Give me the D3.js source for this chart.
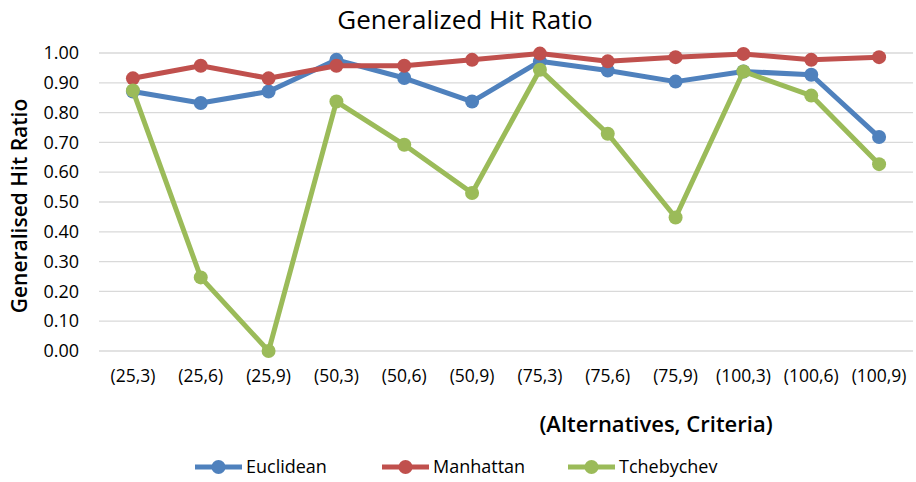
<!DOCTYPE html>
<html>
<head>
<meta charset="utf-8">
<script src="https://cdn.jsdelivr.net/npm/d3@7"></script>
<style>
  body { margin: 0; background: #fff; }
  text { font-family: "Open Sans", sans-serif; fill: #000; }
</style>
</head>
<body>
<div id="chart"></div>
<script>
// categories on the x axis: (alternatives, criteria)
let categories = ["(25,3)", "(25,6)", "(25,9)", "(50,3)", "(50,6)", "(50,9)",
                  "(75,3)", "(75,6)", "(75,9)", "(100,3)", "(100,6)", "(100,9)"];

// series values
let euclidean  = [0.871, 0.832, 0.871, 0.977, 0.916, 0.837, 0.972, 0.941, 0.904, 0.938, 0.927, 0.718];
let manhattan  = [0.915, 0.957, 0.915, 0.957, 0.957, 0.977, 0.998, 0.972, 0.986, 0.997, 0.977, 0.986];
let tchebychev = [0.874, 0.247, 0.000, 0.837, 0.692, 0.530, 0.944, 0.729, 0.448, 0.938, 0.857, 0.627];

let seriesNames = ["Euclidean", "Manhattan", "Tchebychev"];
let yTicks = [0, 0.1, 0.2, 0.3, 0.4, 0.5, 0.6, 0.7, 0.8, 0.9, 1.0];

let colors = ["#4f81bd", "#c0504d", "#9bbb59"];
let allseries = [euclidean, manhattan, tchebychev];

let W = 916, H = 482;
let margin = {top: 53, right: 3, bottom: 131, left: 99};
let width = W - margin.left - margin.right,
    height = H - margin.top - margin.bottom;

let svg = d3.select("#chart").append("svg")
    .attr("width", W)
    .attr("height", H);

let g = svg.append("g")
    .attr("transform", "translate(" + margin.left + "," + margin.top + ")");

let x = d3.scaleBand()
    .domain(categories)
    .range([0, width]);

let y = d3.scaleLinear()
    .domain([0, 1])
    .range([height, 0]);

// gridlines
g.append("g")
    .selectAll("line")
    .data(yTicks)
  .enter().append("line")
    .attr("x1", 0)
    .attr("x2", width)
    .attr("y1", d => y(d))
    .attr("y2", d => y(d))
    .style("stroke", "#d9d9d9")
    .style("stroke-width", 1.3);

// y axis labels
let yAxis = d3.axisLeft(y)
    .tickValues(yTicks)
    .tickFormat(d3.format(".2f"))
    .tickSize(0)
    .tickPadding(20);
let ya = g.append("g").call(yAxis);
ya.select(".domain").remove();
ya.selectAll("text")
    .style("font-size", "18px")
    .style("fill", "#000");

// x axis labels
let xAxis = d3.axisBottom(x)
    .tickSize(0)
    .tickPadding(19);
let xa = g.append("g")
    .attr("transform", "translate(0," + height + ")")
    .call(xAxis);
xa.select(".domain").remove();
xa.selectAll("text")
    .style("font-size", "17.5px")
    .style("fill", "#000");

// lines and markers
let line = d3.line()
    .x((d, i) => x(categories[i]) + x.bandwidth() / 2)
    .y(d => y(d));

allseries.forEach(function(vals, s) {
    g.append("path")
        .datum(vals)
        .attr("d", line)
        .style("fill", "none")
        .style("stroke", colors[s])
        .style("stroke-width", 5)
        .style("stroke-linejoin", "round");
    g.selectAll(".pt" + s)
        .data(vals)
      .enter().append("circle")
        .attr("class", "pt" + s)
        .attr("cx", (d, i) => x(categories[i]) + x.bandwidth() / 2)
        .attr("cy", d => y(d))
        .attr("r", 7)
        .style("fill", colors[s]);
});

// title
svg.append("text")
    .attr("x", 465)
    .attr("y", 29)
    .style("text-anchor", "middle")
    .style("font-size", "26px")
    .text("Generalized Hit Ratio");

// y axis title
svg.append("text")
    .attr("transform", "translate(27," + 206 + ") rotate(-90)")
    .style("text-anchor", "middle")
    .style("font-size", "21px")
    .style("font-weight", 600)
    .text("Generalised Hit Ratio");

// x axis title
svg.append("text")
    .attr("x", 656)
    .attr("y", 432)
    .style("text-anchor", "middle")
    .style("font-size", "22px")
    .style("font-weight", 600)
    .text("(Alternatives, Criteria)");

// legend
let legendX = [195, 382, 568];
let legend = svg.selectAll(".legend")
    .data(seriesNames)
  .enter().append("g")
    .attr("class", "legend")
    .attr("transform", (d, i) => "translate(" + legendX[i] + ",467)");
legend.append("line")
    .attr("x1", 0).attr("x2", 47)
    .style("stroke", (d, i) => colors[i])
    .style("stroke-width", 5);
legend.append("circle")
    .attr("cx", 23.5).attr("r", 7)
    .style("fill", (d, i) => colors[i]);
legend.append("text")
    .attr("x", 51)
    .attr("dy", "0.35em")
    .style("font-size", "18px")
    .text(d => d);
</script>
</body>
</html>
